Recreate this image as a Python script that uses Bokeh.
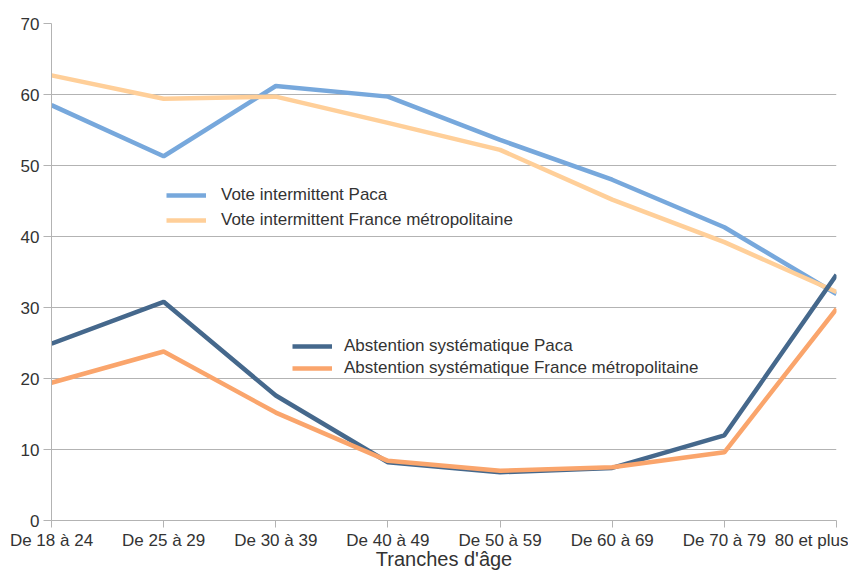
from bokeh.plotting import figure
from bokeh.models import Range1d, FixedTicker, Legend, LegendItem
from bokeh.embed import file_html
from bokeh.resources import INLINE

categories = ["De 18 à 24", "De 25 à 29", "De 30 à 39", "De 40 à 49",
              "De 50 à 59", "De 60 à 69", "De 70 à 79", "80 et plus"]
vote_paca = [58.5, 51.3, 61.2, 59.7, 53.6, 48.0, 41.3, 31.9]
vote_france = [62.7, 59.4, 59.7, 56.0, 52.2, 45.2, 39.2, 32.2]
abst_paca = [24.9, 30.8, 17.6, 8.2, 6.8, 7.4, 12.0, 34.6]
abst_france = [19.4, 23.8, 15.2, 8.4, 7.0, 7.5, 9.6, 29.8]
y_ticks = [0, 10, 20, 30, 40, 50, 60, 70]
x_title = "Tranches d'âge"

FONT = "Liberation Sans"
TXT = "#333333"
GRID = "#b3b3b3"

p = figure(width=848, height=572, output_backend="svg", toolbar_location=None,
           x_range=Range1d(0, len(categories) - 1), y_range=Range1d(0, 70),
           min_border_left=51, min_border_right=12, min_border_top=23,
           min_border_bottom=52)
p.outline_line_color = None
p.background_fill_color = "white"
p.border_fill_color = "white"

xs = list(range(len(categories)))
r1 = p.line(xs, vote_paca, line_color="#77A8DC", line_width=4.5)
r2 = p.line(xs, vote_france, line_color="#FFCF99", line_width=4.5)
r3 = p.line(xs, abst_paca, line_color="#45688C", line_width=4.5)
r4 = p.line(xs, abst_france, line_color="#FAA56C", line_width=4.5)

# y axis
p.yaxis.ticker = FixedTicker(ticks=y_ticks)
p.yaxis.major_label_text_font = FONT
p.yaxis.major_label_text_font_size = "17px"
p.yaxis.major_label_text_color = TXT
p.yaxis.major_tick_out = 8
p.yaxis.major_tick_in = 0
p.yaxis.minor_tick_out = 0
p.yaxis.minor_tick_in = 0
p.yaxis.major_label_standoff = 4
p.yaxis.axis_line_color = GRID
p.yaxis.major_tick_line_color = GRID

# x axis
p.xaxis.ticker = FixedTicker(ticks=xs)
p.xaxis.major_label_overrides = {i: c for i, c in enumerate(categories)}
p.xaxis.major_label_text_font = FONT
p.xaxis.major_label_text_font_size = "17px"
p.xaxis.major_label_text_color = TXT
p.xaxis.major_label_standoff = 3
p.xaxis.major_tick_out = 7
p.xaxis.major_tick_in = 0
p.xaxis.minor_tick_out = 0
p.xaxis.minor_tick_in = 0
p.xaxis.axis_line_color = GRID
p.xaxis.major_tick_line_color = GRID
p.xaxis.axis_label = x_title
p.xaxis.axis_label_text_font = FONT
p.xaxis.axis_label_text_font_size = "20px"
p.xaxis.axis_label_text_font_style = "normal"
p.xaxis.axis_label_text_color = TXT
p.xaxis.axis_label_standoff = -5

p.xgrid.grid_line_color = None
p.ygrid.ticker = FixedTicker(ticks=y_ticks)
p.ygrid.grid_line_color = GRID
p.ygrid.grid_line_width = 1


def make_legend(items, loc, spacing, standoff, lh):
    return Legend(items=items, location=loc, orientation="vertical",
                  background_fill_alpha=0, border_line_color=None,
                  padding=0, margin=0, spacing=spacing, label_standoff=standoff,
                  glyph_width=40, glyph_height=lh, label_height=lh,
                  label_text_font=FONT, label_text_font_size="17px",
                  label_text_color=TXT)


leg1 = make_legend([LegendItem(label="Vote intermittent Paca", renderers=[r1]),
                    LegendItem(label="Vote intermittent France métropolitaine", renderers=[r2])],
                   (115, 290), 5, 15, 20)
leg2 = make_legend([LegendItem(label="Abstention systématique Paca", renderers=[r3]),
                    LegendItem(label="Abstention systématique France métropolitaine", renderers=[r4])],
                   (241, 142), 2, 12, 20)
p.add_layout(leg1, "center")
p.add_layout(leg2, "center")

open("out.html", "w").write(file_html(p, INLINE))
